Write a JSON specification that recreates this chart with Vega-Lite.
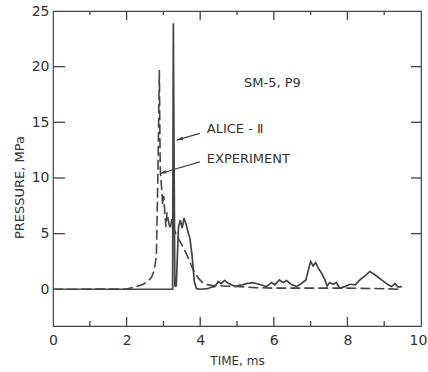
{
  "$schema": "https://vega.github.io/schema/vega-lite/v6.json",
  "width": 368,
  "height": 315,
  "autosize": {"type": "none"},
  "padding": {"left": 53, "top": 11, "right": 7, "bottom": 46},
  "background": "white",
  "config": {
    "view": {"stroke": "#444", "strokeWidth": 1.2},
    "axis": {
      "domain": false,
      "ticks": false,
      "tickSize": 0,
      "grid": false,
      "labelFont": "DejaVu Sans",
      "labelFontSize": 14,
      "labelColor": "#333",
      "labelFlush": false,
      "titleFont": "DejaVu Sans",
      "titleFontWeight": "normal",
      "titleColor": "#333"
    }
  },
  "datasets": {
    "alice": [
      {"t": 0, "p": 0}, {"t": 3.25, "p": 0}, {"t": 3.27, "p": 23.9}, {"t": 3.31, "p": 0.3}, {"t": 3.35, "p": 0.3},
      {"t": 3.41, "p": 5.6}, {"t": 3.46, "p": 6.2}, {"t": 3.51, "p": 5.5}, {"t": 3.56, "p": 6.4}, {"t": 3.62, "p": 5.8},
      {"t": 3.68, "p": 5.0}, {"t": 3.72, "p": 4.6}, {"t": 3.78, "p": 3.0}, {"t": 3.84, "p": 0.7}, {"t": 3.9, "p": 0.05},
      {"t": 4.0, "p": 0}, {"t": 4.2, "p": 0.05}, {"t": 4.32, "p": 0.2}, {"t": 4.4, "p": 0.25}, {"t": 4.49, "p": 0.7},
      {"t": 4.57, "p": 0.5}, {"t": 4.66, "p": 0.8}, {"t": 4.75, "p": 0.55}, {"t": 4.85, "p": 0.4}, {"t": 4.95, "p": 0.25},
      {"t": 5.05, "p": 0.35}, {"t": 5.15, "p": 0.4}, {"t": 5.25, "p": 0.5}, {"t": 5.35, "p": 0.55}, {"t": 5.41, "p": 0.6},
      {"t": 5.6, "p": 0.45}, {"t": 5.8, "p": 0.24}, {"t": 5.94, "p": 0.6}, {"t": 6.03, "p": 0.4}, {"t": 6.15, "p": 0.84},
      {"t": 6.26, "p": 0.6}, {"t": 6.35, "p": 0.78}, {"t": 6.49, "p": 0.4}, {"t": 6.62, "p": 0.24}, {"t": 6.76, "p": 0.54},
      {"t": 6.87, "p": 0.84}, {"t": 6.94, "p": 1.74}, {"t": 7.0, "p": 2.5}, {"t": 7.07, "p": 2.1}, {"t": 7.14, "p": 2.4},
      {"t": 7.21, "p": 1.9}, {"t": 7.3, "p": 1.44}, {"t": 7.39, "p": 0.84}, {"t": 7.45, "p": 0.3}, {"t": 7.52, "p": 0.6},
      {"t": 7.61, "p": 0.45}, {"t": 7.7, "p": 0.6}, {"t": 7.79, "p": 0.1}, {"t": 7.93, "p": 0.24}, {"t": 8.07, "p": 0.45},
      {"t": 8.21, "p": 0.4}, {"t": 8.34, "p": 0.84}, {"t": 8.48, "p": 1.2}, {"t": 8.61, "p": 1.6}, {"t": 8.75, "p": 1.3},
      {"t": 8.93, "p": 0.84}, {"t": 9.11, "p": 0.4}, {"t": 9.2, "p": 0.24}, {"t": 9.29, "p": 0.5}, {"t": 9.38, "p": 0.2},
      {"t": 9.48, "p": 0.24}
    ],
    "exp": [
      {"t": 0, "p": 0}, {"t": 2.0, "p": 0.02}, {"t": 2.27, "p": 0.24}, {"t": 2.45, "p": 0.45}, {"t": 2.58, "p": 0.7},
      {"t": 2.68, "p": 1.1}, {"t": 2.74, "p": 1.6}, {"t": 2.78, "p": 2.3}, {"t": 2.81, "p": 3.2}, {"t": 2.85, "p": 10},
      {"t": 2.89, "p": 19.7}, {"t": 2.91, "p": 12}, {"t": 2.92, "p": 10.4}, {"t": 2.95, "p": 9.2}, {"t": 2.98, "p": 7.6},
      {"t": 3.01, "p": 8.4}, {"t": 3.04, "p": 6.8}, {"t": 3.07, "p": 5.6}, {"t": 3.1, "p": 6.9}, {"t": 3.14, "p": 6.1},
      {"t": 3.18, "p": 5.4}, {"t": 3.23, "p": 6.3}, {"t": 3.28, "p": 5.5}, {"t": 3.35, "p": 4.9}, {"t": 3.45, "p": 4.3},
      {"t": 3.55, "p": 3.7}, {"t": 3.65, "p": 3.0}, {"t": 3.75, "p": 2.2}, {"t": 3.85, "p": 1.5}, {"t": 3.95, "p": 1.0},
      {"t": 4.05, "p": 0.65}, {"t": 4.15, "p": 0.45}, {"t": 4.3, "p": 0.35}, {"t": 4.6, "p": 0.3}, {"t": 5.0, "p": 0.25},
      {"t": 5.5, "p": 0.15}, {"t": 6.0, "p": 0.1}, {"t": 7.0, "p": 0.1}, {"t": 8.0, "p": 0.1}, {"t": 9.0, "p": 0.05},
      {"t": 9.45, "p": 0.0}
    ],
    "arrows": [
      {"x": 3.99, "y": 14.0, "x2": 3.36, "y2": 13.4},
      {"x": 3.99, "y": 11.45, "x2": 2.91, "y2": 10.4}
    ],
    "labels": [
      {"x": 5.19, "y": 18.56, "text": "SM-5, P9"},
      {"x": 4.18, "y": 14.4, "text": "ALICE - Ⅱ"},
      {"x": 4.18, "y": 11.7, "text": "EXPERIMENT"}
    ],
    "xticks": [
      {"v": 1}, {"v": 2}, {"v": 3}, {"v": 4}, {"v": 5}, {"v": 6}, {"v": 7}, {"v": 8}, {"v": 9}
    ],
    "yticks": [
      {"v": 5}, {"v": 10}, {"v": 15}, {"v": 20}
    ]
  },
  "layer": [
    {
      "data": {"name": "exp"},
      "mark": {"type": "line", "color": "#444", "strokeWidth": 1.6, "strokeDash": [10, 4]},
      "encoding": {
        "x": {
          "field": "t", "type": "quantitative",
          "scale": {"domain": [0, 10], "nice": false, "zero": false},
          "axis": {
            "orient": "bottom",
            "values": [0, 2, 4, 6, 8, 10],
            "labelPadding": 7,
            "labelOffset": {"condition": {"test": "datum.value === 10", "value": -3}, "value": 0},
            "title": "TIME, ms",
            "titleFontSize": 12,
            "titleY": 29,
            "titleBaseline": "top"
          }
        },
        "y": {
          "field": "p", "type": "quantitative",
          "scale": {"domain": [-3.3, 25], "nice": false, "zero": false},
          "axis": {
            "orient": "left",
            "values": [0, 5, 10, 15, 20, 25],
            "labelPadding": 4,
            "title": "PRESSURE, MPa",
            "titleFontSize": 13,
            "titleX": -30,
            "titleY": 176,
            "titleBaseline": "alphabetic",
            "titleAlign": "center"
          }
        }
      }
    },
    {
      "data": {"name": "alice"},
      "mark": {"type": "line", "color": "#444", "strokeWidth": 1.7},
      "encoding": {
        "x": {"field": "t", "type": "quantitative", "scale": {"domain": [0, 10], "nice": false, "zero": false}},
        "y": {"field": "p", "type": "quantitative", "scale": {"domain": [-3.3, 25], "nice": false, "zero": false}}
      }
    },
    {
      "data": {"name": "arrows"},
      "mark": {"type": "rule", "color": "#444", "strokeWidth": 1.2},
      "encoding": {
        "x": {"field": "x", "type": "quantitative", "scale": {"domain": [0, 10], "nice": false, "zero": false}},
        "y": {"field": "y", "type": "quantitative", "scale": {"domain": [-3.3, 25], "nice": false, "zero": false}},
        "x2": {"field": "x2"},
        "y2": {"field": "y2"}
      }
    },
    {
      "data": {"name": "arrows"},
      "mark": {"type": "point", "shape": "M0,0L2,-0.6L2,0.6Z", "filled": true, "color": "#444", "size": 40, "angle": 344, "opacity": 1},
      "encoding": {
        "x": {"field": "x2", "type": "quantitative", "scale": {"domain": [0, 10], "nice": false, "zero": false}},
        "y": {"field": "y2", "type": "quantitative", "scale": {"domain": [-3.3, 25], "nice": false, "zero": false}}
      }
    },
    {
      "data": {"name": "labels"},
      "mark": {"type": "text", "align": "left", "baseline": "middle", "font": "DejaVu Sans", "fontSize": 13, "color": "#333"},
      "encoding": {
        "x": {"field": "x", "type": "quantitative", "scale": {"domain": [0, 10], "nice": false, "zero": false}},
        "y": {"field": "y", "type": "quantitative", "scale": {"domain": [-3.3, 25], "nice": false, "zero": false}},
        "text": {"field": "text"}
      }
    },
    {
      "data": {"name": "xticks"},
      "transform": [{"filter": "datum.v % 2 === 0"}],
      "mark": {"type": "tick", "orient": "vertical", "color": "#444", "size": 9, "thickness": 1.3, "yOffset": -4.5, "opacity": 1},
      "encoding": {
        "x": {"field": "v", "type": "quantitative", "scale": {"domain": [0, 10], "nice": false, "zero": false}},
        "y": {"datum": -3.3, "type": "quantitative", "scale": {"domain": [-3.3, 25], "nice": false, "zero": false}}
      }
    },
    {
      "data": {"name": "xticks"},
      "transform": [{"filter": "datum.v % 2 === 1"}],
      "mark": {"type": "tick", "orient": "vertical", "color": "#444", "size": 5, "thickness": 1.3, "yOffset": -2.5, "opacity": 1},
      "encoding": {
        "x": {"field": "v", "type": "quantitative", "scale": {"domain": [0, 10], "nice": false, "zero": false}},
        "y": {"datum": -3.3, "type": "quantitative", "scale": {"domain": [-3.3, 25], "nice": false, "zero": false}}
      }
    },
    {
      "data": {"name": "xticks"},
      "transform": [{"filter": "datum.v % 2 === 0"}],
      "mark": {"type": "tick", "orient": "vertical", "color": "#444", "size": 9, "thickness": 1.3, "yOffset": 4.5, "opacity": 1},
      "encoding": {
        "x": {"field": "v", "type": "quantitative", "scale": {"domain": [0, 10], "nice": false, "zero": false}},
        "y": {"datum": 25, "type": "quantitative", "scale": {"domain": [-3.3, 25], "nice": false, "zero": false}}
      }
    },
    {
      "data": {"name": "xticks"},
      "transform": [{"filter": "datum.v % 2 === 1"}],
      "mark": {"type": "tick", "orient": "vertical", "color": "#444", "size": 4, "thickness": 1.3, "yOffset": 2, "opacity": 1},
      "encoding": {
        "x": {"field": "v", "type": "quantitative", "scale": {"domain": [0, 10], "nice": false, "zero": false}},
        "y": {"datum": 25, "type": "quantitative", "scale": {"domain": [-3.3, 25], "nice": false, "zero": false}}
      }
    },
    {
      "data": {"name": "yticks"},
      "mark": {"type": "tick", "orient": "horizontal", "color": "#444", "size": 12, "thickness": 1.3, "xOffset": 6, "opacity": 1},
      "encoding": {
        "x": {"datum": 0, "type": "quantitative", "scale": {"domain": [0, 10], "nice": false, "zero": false}},
        "y": {"field": "v", "type": "quantitative", "scale": {"domain": [-3.3, 25], "nice": false, "zero": false}}
      }
    },
    {
      "data": {"name": "yticks"},
      "mark": {"type": "tick", "orient": "horizontal", "color": "#444", "size": 10, "thickness": 1.3, "xOffset": -5, "opacity": 1},
      "encoding": {
        "x": {"datum": 10, "type": "quantitative", "scale": {"domain": [0, 10], "nice": false, "zero": false}},
        "y": {"field": "v", "type": "quantitative", "scale": {"domain": [-3.3, 25], "nice": false, "zero": false}}
      }
    }
  ]
}
